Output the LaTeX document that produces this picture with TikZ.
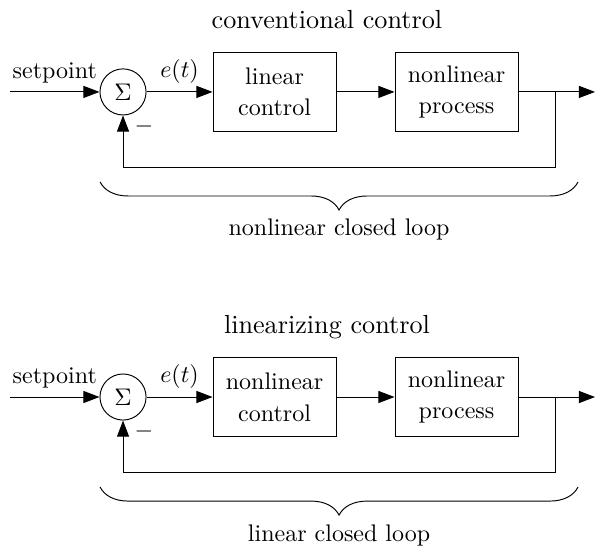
\documentclass[tikz,border=0pt]{standalone}
\usepackage{amsmath}
\usetikzlibrary{arrows.meta,decorations.pathreplacing}

\begin{document}
\begin{tikzpicture}[x=1pt,y=1pt,
  block/.style={draw,minimum width=51.3pt,minimum height=32.9pt,align=center,
    font=\fontsize{10}{13.2}\selectfont},
  sumnode/.style={draw,circle,minimum size=19.2pt,inner sep=0pt},
  sig/.style={-{Triangle[length=6.7pt,width=5pt]}},
  heading/.style={font=\fontsize{10.9}{13}\selectfont,anchor=base}]
\useasboundingbox (0,0) rectangle (248.3,-227.1);
\foreach \r/\ctrl/\head/\loopname in {0/linear/conventional control/nonlinear closed loop,
    1/nonlinear/linearizing control/linear closed loop}{
\begin{scope}[yshift={-\r*127.1pt}]
\node[heading] (head\r) at (136.2,-11.7) {\head};
\coordinate (in\r) at (4.2,-38.3);
\node[sumnode] (sum\r) at (51.25,-38.3) {$\Sigma$};
\node[block] (ctrl\r) at (114.4,-38.3) {\ctrl\\control};
\node[block] (proc\r) at (190.2,-38.3) {nonlinear\\process};
\coordinate (out\r) at (247.9,-38.3);
\coordinate (branch\r) at (231.3,-38.3);
\coordinate (fb\r) at (231.3,-69.6);
\draw[sig] (in\r) -- node[above] (sp\r) {setpoint} (sum\r);
\draw[sig] (sum\r) -- node[above] (err\r) {$e(t)$} (ctrl\r);
\draw[sig] (ctrl\r) -- (proc\r);
\draw[sig] (proc\r) -- (out\r);
\draw[sig] (branch\r) -- (fb\r) -| (sum\r);
\node (minus\r) at (60,-52.5) {$-$};
% brace under the loop
\coordinate (bl\r) at (41.7,-75.8);
\coordinate (br\r) at (240.8,-75.8);
\draw[decorate,decoration={brace,mirror,amplitude=11.7pt}] (bl\r) -- (br\r);
\node[anchor=base] (loop\r) at (141.25,-98.3) {\loopname};
\end{scope}
}
\end{tikzpicture}
\end{document}
